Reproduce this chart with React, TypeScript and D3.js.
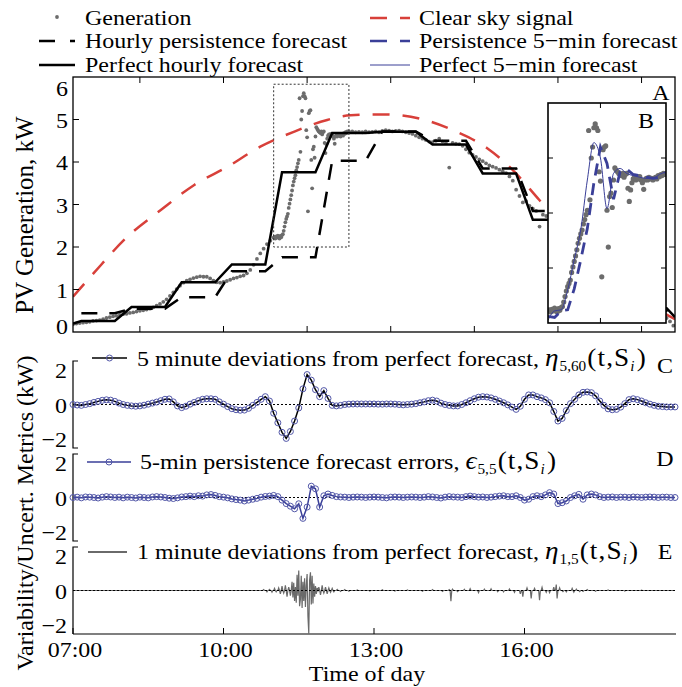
import React from 'react';
import * as d3 from 'd3';

const W = 682;
const H = 687;
const FONT = "'Liberation Serif', 'DejaVu Serif', serif";

// measured generation (kW). morning / afternoon every 4 min, the zoomed hour and a half every minute
const genMorning = [
  0.18, 0.20, 0.21, 0.22, 0.23, 0.24, 0.26, 0.27, 0.28, 0.30,
  0.33, 0.35, 0.37, 0.38, 0.40, 0.42, 0.43, 0.45, 0.46, 0.48,
  0.50, 0.51, 0.53, 0.55, 0.58, 0.62, 0.66, 0.71, 0.77, 0.85,
  0.93, 1.01, 1.09, 1.16, 1.21, 1.24, 1.27, 1.29, 1.31, 1.30,
  1.30, 1.26, 1.21, 1.17, 1.16, 1.18, 1.20, 1.23, 1.26, 1.28,
  1.31, 1.33, 1.38, 1.46, 1.58, 1.72, 1.85, 1.96, 2.07, 2.15,
];
const genMidday = [
  2.22, 2.24, 2.20, 2.25, 2.22, 2.27, 2.24, 2.20, 2.26, 2.23,
  2.28, 2.30, 2.38, 2.48, 2.58, 2.66, 2.72, 2.78, 2.92, 3.02,
  3.12, 3.22, 3.33, 3.45, 3.54, 3.62, 3.69, 3.80, 3.88, 3.97,
  4.05, 5.50, 4.24, 5.00, 5.20, 5.55, 5.62, 5.55, 5.50, 4.75,
  4.58, 2.84, 5.15, 5.20, 5.22, 4.05, 3.38, 4.30, 4.36, 4.10,
  4.60, 4.82, 4.78, 4.75, 4.72, 4.70, 4.68, 4.72, 4.65, 4.70,
  4.72, 4.45, 4.21, 4.42, 4.55, 4.62, 4.65, 4.60, 4.66, 4.62,
  4.66, 4.60, 4.55, 4.43, 4.60, 4.63, 4.60, 4.65, 4.62, 4.63,
  4.60, 4.63, 4.65, 4.62, 4.68, 4.66, 4.70, 4.68, 4.72, 4.70,
  4.72,
];
const genAfternoon = [
  4.72, 4.70, 4.71, 4.70, 4.72, 4.70, 4.71, 4.72, 4.70, 4.73,
  4.75, 4.74, 4.72, 4.73, 4.74, 4.72, 4.70, 4.68, 4.66, 4.62,
  4.58, 4.55, 4.52, 4.48, 4.47, 4.50, 4.55, 4.48, 4.45, 3.87,
  4.45, 4.43, 4.42, 4.38, 4.30, 4.22, 4.17, 4.12, 4.06, 4.02,
  3.97, 3.92, 3.89, 3.86, 3.82, 3.78, 3.74, 3.66, 3.56, 3.35,
  3.20, 3.05, 3.08, 2.97, 2.90, 2.85, 2.48, 2.76, 2.73, 2.66,
  2.60, 2.52, 2.46, 2.40, 2.35, 2.30, 2.24, 2.18, 2.12, 2.05,
  1.98, 1.92, 1.85, 1.78, 1.70, 1.62, 1.55, 1.48, 1.40, 1.33,
  1.26, 1.19, 1.12, 1.05, 0.98, 0.91, 0.84, 0.77, 0.70, 0.63,
  0.56, 0.49, 0.42, 0.37, 0.33, 0.25, 0.15,
];

// clear sky signal (minutes since midnight, kW)
const clearSkyT = [420, 445, 485, 525, 565, 605, 644, 684, 724, 752, 793, 839, 879, 915, 946, 978, 1010, 1050, 1090, 1140];
const clearSkyV = [0.83, 1.39, 2.24, 2.87, 3.46, 3.89, 4.36, 4.71, 4.99, 5.10, 5.12, 5.00, 4.71, 4.33, 3.81, 3.10, 2.40, 1.60, 0.90, 0.30];

// hourly values for 07:00 ... 18:00
const perfectHourly = [0.26, 0.59, 1.17, 1.59, 3.76, 4.68, 4.71, 4.41, 3.73, 2.64, 1.70, 0.56];
const persistHourly = [0.44, 0.55, 0.82, 1.43, 1.76, 4.03, 4.72, 4.50, 3.85, 2.85, 2.20, 0.50];

// 5-min forecasts inside the zoom window, 11:00 ... 12:30
const perfect5 = [2.05, 2.22, 2.24, 2.60, 3.15, 3.70, 4.60, 5.28, 5.00, 4.08, 4.72, 4.81, 4.72, 4.68, 4.65, 4.63, 4.63, 4.70, 4.75];
const persist5 = [2.12, 2.10, 2.22, 2.24, 2.62, 3.15, 3.72, 4.55, 5.20, 4.90, 4.25, 4.75, 4.80, 4.70, 4.68, 4.65, 4.63, 4.65, 4.72];

// panel C: 5 minute deviations from perfect forecast, 07:00 ... 19:00
const eta560 = [
  0, -0.03, -0.05, 0, 0.05, 0.12, 0.18, 0.24, 0.27, 0.25, 0.18, 0.08,
  0, -0.05, -0.08, -0.10, -0.08, -0.04, 0.02, 0.08, 0.14, 0.22, 0.30, 0.32,
  0.15, -0.08, -0.18, -0.10, 0.02, 0.12, 0.22, 0.30, 0.33, 0.33, 0.30, 0.15,
  0.02, -0.12, -0.24, -0.30, -0.33, -0.32, -0.22, -0.05, 0.12, 0.30, 0.45, 0.20,
  -0.50, -1.05, -1.60, -1.95, -1.55, -0.95, -0.20, 0.90, 1.72, 1.40, 0.85, 0.45,
  0.80, 0.35, -0.05, -0.08, -0.05, 0, 0.02, 0.03, 0.03, 0.03, 0.03, 0.03,
  0.03, 0.02, 0.02, 0.03, 0.03, 0.02, 0, -0.02, 0, 0.02, 0.05, 0.10,
  0.15, 0.22, 0.25, 0.20, 0.08, 0, -0.05, -0.08, -0.08, 0, 0.10, 0.22,
  0.33, 0.42, 0.45, 0.43, 0.38, 0.30, 0.20, 0.10, -0.02, -0.15, -0.28, -0.10,
  0.30, 0.55, 0.55, 0.45, 0.38, 0.28, 0.10, -0.40, -0.95, -0.80, -0.35, 0.05,
  0.30, 0.55, 0.70, 0.72, 0.68, 0.50, 0.20, -0.05, -0.25, -0.30, -0.28, -0.15,
  0.05, 0.28, 0.33, 0.28, 0.20, 0.10, 0.02, -0.05, -0.10, -0.12, -0.14, -0.14,
  -0.14,
];

// panel D: 5-min persistence forecast errors, 07:00 ... 19:00
const eps55 = [
  0, 0.02, -0.02, 0.03, 0.02, 0, -0.03, 0.02, 0.05, 0.03, 0, 0.02,
  -0.02, 0.02, 0, -0.03, 0.02, 0, -0.02, 0.03, 0.05, 0.03, 0, -0.04,
  -0.06, -0.02, 0.03, 0.05, 0.08, 0.05, 0.10, 0.08, 0.15, 0.17, 0.12, 0.05,
  0.02, -0.02, -0.08, -0.12, -0.15, -0.20, -0.15, -0.10, -0.05, 0.02, 0.06, 0.08,
  0.12, 0.05, -0.15, -0.35, -0.50, -0.65, -0.36, -1.20, -0.55, 0.65, 0.50, -0.55,
  0.10, 0.20, 0.12, 0.05, 0.03, 0.02, 0, 0.02, 0.03, 0.02, 0, 0.02,
  0.03, 0.02, 0, -0.02, 0.02, 0.03, 0.02, 0, 0.02, 0.03, 0.02, 0,
  0.02, 0.05, 0.03, 0, -0.03, 0.02, 0.05, 0.03, 0.02, 0, 0.05, 0.08,
  0.05, 0.02, 0.03, 0, 0.02, 0.05, 0.08, 0.10, 0.05, 0.05, 0.10, 0,
  -0.15, -0.10, 0.05, 0.10, 0.05, 0.15, 0.28, 0.20, -0.35, -0.30, -0.20, 0,
  0.10, 0.18, -0.10, 0.15, 0.20, 0.15, 0.05, 0, 0.02, 0.03, 0, 0.02,
  0.02, 0, 0.03, 0.02, 0, 0.02, 0.03, 0.02, 0, 0.02, 0.02, 0,
  0,
];

// panel E: 1 minute deviations; minutes not listed read as zero
const eta15T = [
  648, 652, 655, 658, 661, 663, 666, 668, 670, 672, 674, 676, 678, 680, 682, 683, 684, 685, 686, 687,
  688, 689, 690, 691, 692, 693, 694, 695, 696, 697, 698, 699, 700, 701, 702, 703, 704, 705, 706, 707,
  708, 709, 710, 711, 712, 714, 716, 718, 720, 722, 724, 726, 728, 730, 732, 736, 740, 745, 750,
  760, 775, 790, 805, 820, 838, 850, 862, 870, 872, 874, 880, 888, 895, 905, 912, 920, 928, 935, 942,
  948, 955, 958, 963, 968, 972, 978, 981, 986, 990, 995, 998, 999, 1002, 1006, 1010, 1017, 1019, 1022,
  1026, 1030, 1035, 1045, 1060, 1080, 1100,
];
const eta15V = [
  0.05, -0.08, 0.06, -0.10, 0.12, -0.08, 0.15, -0.20, 0.25, -0.15, 0.30, -0.35, 0.20, -0.30, 0.50, -0.40, 0.45, -0.60, 0.20, -0.70,
  0.90, -0.30, 1.15, -0.90, -0.50, 0.85, -1.00, 0.50, -0.60, 0.70, -0.95, 0.30, 0.95, -1.50, -2.45, 0.60, 1.05, -0.80, 0.85, -0.75,
  0.40, -0.35, 0.25, -0.20, 0.15, 0.20, -0.25, 0.30, -0.15, 0.20, -0.20, 0.15, -0.10, 0.12, -0.08, 0.06, -0.05, 0.05, -0.04,
  0.03, -0.03, 0.04, -0.03, 0.03, -0.04, 0.05, -0.05, 0.05, -0.62, 0.08, -0.06, 0.07, 0.10, -0.12, 0.08, 0.10, -0.07, -0.08, 0.09,
  -0.10, -0.20, -0.36, 0.15, -0.46, 0.12, -0.56, 0.18, -0.10, -0.12, 0.20, 0.34, -0.46, 0.15, -0.06, -0.08, 0.12, -0.10, 0.08,
  -0.06, -0.05, 0.05, -0.04, 0.03, -0.03, 0.02,
];

const hourTicks = [420, 600, 780, 960];
const hourLabels = ['07:00', '10:00', '13:00', '16:00'];
const zoomBox = { t0: 660, t1: 750, v0: 2, v1: 5.83 };

const x = d3.scaleLinear().domain([420, 1140]).range([73, 675]);
const yA = d3.scaleLinear().domain([0, 6]).range([332, 77]);
const xB = d3.scaleLinear().domain([660, 750]).range([548, 666]);
const yB = d3.scaleLinear().domain([2, 6]).range([323, 103]);
const yC = d3.scaleLinear().domain([-2.5, 2.5]).range([448, 361]);
const yD = d3.scaleLinear().domain([-2.5, 2.5]).range([541, 454]);
const yE = d3.scaleLinear().domain([-2.5, 2.5]).range([634, 547]);

const RED = '#d8403a';
const BLUE = '#3a3f98';
const MARK = '#5257a8';
const GRAY = '#6c6c6c';
const FS = 22;
const SX = 1.09; // the figure's lettering is a little wider than tall

type Pt = [number, number];

const gen: Pt[] = [
  ...genMorning.map((v, i) => [420 + i * 4, v] as Pt),
  ...genMidday.map((v, i) => [660 + i, v] as Pt),
  ...genAfternoon.map((v, i) => [754 + i * 4, v] as Pt),
];

function hourlyPath(vals: number[], first: Pt | null, last: Pt): Pt[] {
  const pts: Pt[] = first ? [first] : [];
  vals.forEach((v, i) => {
    const h0 = (7 + i) * 60;
    pts.push([h0 + 10, v]);
    pts.push([h0 + 50, v]);
  });
  pts.push(last);
  return pts;
}

const perfectPts = hourlyPath(perfectHourly, [420, 0.2], [1140, 0.35]);
const persistPts = hourlyPath(persistHourly, null, [1140, 0.3]);
const clearPts: Pt[] = clearSkyT.map((t, i) => [t, clearSkyV[i]]);
const p5: Pt[] = perfect5.map((v, i) => [660 + i * 5, v]);
const ps5: Pt[] = persist5.map((v, i) => [660 + i * 5, v]);
const cPts: Pt[] = eta560.map((v, i) => [420 + i * 5, v]);
const dPts: Pt[] = eps55.map((v, i) => [420 + i * 5, v]);
const eMap = new Map(eta15T.map((t, i) => [t, eta15V[i]]));
const ePts: Pt[] = d3.range(420, 1141).map((t) => [t, eMap.get(t) ?? 0]);

const lineA = d3.line<Pt>().x((d) => x(d[0])).y((d) => yA(d[1]));
const lineB = d3.line<Pt>().x((d) => xB(d[0])).y((d) => yB(d[1]));

// horizontal text, slightly stretched in x like the reference
function T({ x0, y0, anchor = 'start', size = FS, children }: any) {
  return (
    <text transform={`translate(${x0},${y0}) scale(${SX},1)`} textAnchor={anchor} fontSize={size} fontFamily={FONT}>
      {children}
    </text>
  );
}

function MathLabel({ x0, y0, pre, sym, sub }: { x0: number; y0: number; pre: string; sym: string; sub: string }) {
  return (
    <T x0={x0} y0={y0}>
      {pre}
      <tspan fontStyle="italic" fontSize={25}>{sym}</tspan>
      <tspan fontSize={14} dy={5} dx={1}>{sub}</tspan>
      <tspan dy={-5} dx={1} fontSize={25} letterSpacing={1}>(t,S</tspan>
      <tspan fontSize={14} fontStyle="italic" dy={5}>i</tspan>
      <tspan dy={-5} dx={2} fontSize={25}>)</tspan>
    </T>
  );
}

function SmallPanel({ y, pts, lineColor, markers, label, children }: any) {
  const [top, bottom] = [y.range()[1], y.range()[0]];
  const path = d3.line<Pt>().x((d) => x(d[0])).y((d) => y(d[1]))(pts) || '';
  return (
    <g>
      <path d={`M${x(420) + 5},${top}H${x(420)}V${bottom}${markers ? `H${x(420) + 5}` : ''}`} fill="none" stroke="#000" strokeWidth={1.2} />
      {markers && <line x1={x(420)} x2={x(1140)} y1={y(0)} y2={y(0)} stroke="#000" strokeWidth={1} strokeDasharray="2,2" />}
      <path d={path} fill="none" stroke={lineColor} strokeWidth={markers ? 1.5 : 1.2} />
      {markers && pts.map((d: Pt, i: number) => (
        <circle key={i} cx={x(d[0])} cy={y(d[1])} r={3} fill="none" stroke={MARK} strokeWidth={1} />
      ))}
      {!markers && <line x1={x(420)} x2={x(1140)} y1={y(0)} y2={y(0)} stroke="#000" strokeWidth={1} strokeDasharray="2,2" />}
      {[2, 0, -2].map((v) => (
        <T key={v} x0={67} y0={y(v) + 8} anchor="end">{v < 0 ? `\u2212${-v}` : v}</T>
      ))}
      <T x0={665} y0={top + 12} anchor="middle">{label}</T>
      {children}
    </g>
  );
}

export default function App() {
  const ticksA = d3.range(500, 1101, 100);
  return (
    <svg width={W} height={H} style={{ position: 'absolute', left: 0, top: 0, background: '#fff' }}>
      <defs>
        <clipPath id="clipA"><rect x={73} y={77} width={602} height={255} /></clipPath>
        <clipPath id="clipB"><rect x={548} y={103} width={118} height={220} /></clipPath>
      </defs>

      {/* legend of panel A */}
      <circle cx={57} cy={17} r={1.9} fill={GRAY} />
      <T x0={85} y0={25}>Generation</T>
      <line x1={39} x2={75} y1={41} y2={41} stroke="#000" strokeWidth={2.5} strokeDasharray="16,15" />
      <T x0={85} y0={48}>Hourly persistence forecast</T>
      <line x1={39} x2={75} y1={65} y2={65} stroke="#000" strokeWidth={2.5} />
      <T x0={85} y0={72}>Perfect hourly forecast</T>
      <line x1={370} x2={410} y1={18} y2={18} stroke={RED} strokeWidth={2.5} strokeDasharray="17,13" />
      <T x0={419} y0={25}>Clear sky signal</T>
      <line x1={370} x2={410} y1={41} y2={41} stroke={BLUE} strokeWidth={2.5} strokeDasharray="17,13" />
      <T x0={419} y0={48}>Persistence 5{'\u2212'}min forecast</T>
      <line x1={370} x2={410} y1={65} y2={65} stroke={BLUE} strokeWidth={1} />
      <T x0={419} y0={72}>Perfect 5{'\u2212'}min forecast</T>

      {/* panel A */}
      <g clipPath="url(#clipA)">
        <path d={d3.line<Pt>().curve(d3.curveMonotoneX).x((d) => x(d[0])).y((d) => yA(d[1]))(clearPts) || ''}
          fill="none" stroke={RED} strokeWidth={2.5} strokeDasharray="17,13" />
        {gen.map((d, i) => (
          <circle key={i} cx={x(d[0])} cy={yA(d[1])} r={1.9} fill={GRAY} />
        ))}
        <path d={lineA(persistPts) || ''} fill="none" stroke="#000" strokeWidth={2.5} strokeDasharray="16,12" />
        <path d={lineA(perfectPts) || ''} fill="none" stroke="#000" strokeWidth={2.5} />
        <rect x={x(zoomBox.t0)} y={yA(zoomBox.v1)} width={x(zoomBox.t1) - x(zoomBox.t0)}
          height={yA(zoomBox.v0) - yA(zoomBox.v1)} fill="none" stroke="#333" strokeWidth={1} strokeDasharray="2,2" />
      </g>
      <rect x={73} y={77} width={602} height={255} fill="none" stroke="#000" strokeWidth={1.3} />
      {ticksA.map((t) => (
        <g key={t}>
          <line x1={x(t)} x2={x(t)} y1={77} y2={83} stroke="#000" />
          <line x1={x(t)} x2={x(t)} y1={332} y2={326} stroke="#000" />
        </g>
      ))}
      {d3.range(1, 6).map((v) => (
        <g key={v}>
          <line x1={73} x2={79} y1={yA(v)} y2={yA(v)} stroke="#000" />
          <line x1={675} x2={669} y1={yA(v)} y2={yA(v)} stroke="#000" />
        </g>
      ))}
      {d3.range(0, 7).map((v) => (
        <T key={v} x0={68} y0={v === 6 ? 96 : v === 0 ? 334 : yA(v) + 8} anchor="end">{v}</T>
      ))}
      <T x0={661} y0={100} anchor="middle">A</T>
      <text transform="translate(33,215) rotate(-90)" textAnchor="middle" fontSize={25} fontFamily={FONT}>PV Generation, kW</text>

      {/* inset B */}
      <rect x={548} y={103} width={118} height={220} fill="#fff" />
      <g clipPath="url(#clipB)">
        {gen.filter((d) => d[0] >= 660 && d[0] <= 750).map((d, i) => (
          <circle key={i} cx={xB(d[0])} cy={yB(d[1])} r={2.6} fill={GRAY} />
        ))}
        <path d={lineB(ps5) || ''} fill="none" stroke={BLUE} strokeWidth={2.8} strokeDasharray="12,8" />
        <path d={d3.line<Pt>().curve(d3.curveMonotoneX).x((d) => xB(d[0])).y((d) => yB(d[1]))(p5) || ''}
          fill="none" stroke={BLUE} strokeWidth={1} />
      </g>
      <rect x={548} y={103} width={118} height={220} fill="none" stroke="#000" strokeWidth={1.6} />
      {[3, 4, 5].map((v) => (
        <g key={v}>
          <line x1={548} x2={553} y1={yB(v)} y2={yB(v)} stroke="#000" />
          <line x1={666} x2={661} y1={yB(v)} y2={yB(v)} stroke="#000" />
        </g>
      ))}
      <line x1={xB(700)} x2={xB(700)} y1={103} y2={108} stroke="#000" />
      <line x1={xB(700)} x2={xB(700)} y1={323} y2={318} stroke="#000" />
      <T x0={646} y0={128} anchor="middle">B</T>

      {/* panels C, D, E */}
      <SmallPanel y={yC} pts={cPts} lineColor="#000" markers label="C">
        <line x1={92} x2={127} y1={358} y2={358} stroke="#000" strokeWidth={1.5} />
        <circle cx={109.5} cy={358} r={3} fill="none" stroke={MARK} />
        <MathLabel x0={137} y0={366} pre="5 minute deviations from perfect forecast, " sym={'\u03b7'} sub="5,60" />
      </SmallPanel>
      <SmallPanel y={yD} pts={dPts} lineColor={BLUE} markers label="D">
        <line x1={87} x2={131} y1={462} y2={462} stroke={BLUE} strokeWidth={1.5} />
        <circle cx={109} cy={462} r={3} fill="none" stroke={MARK} />
        <MathLabel x0={140} y0={469} pre="5-min persistence forecast errors, " sym={'\u03f5'} sub="5,5" />
      </SmallPanel>
      <SmallPanel y={yE} pts={ePts} lineColor="#6a6a6a" markers={false} label="E">
        <line x1={88} x2={127} y1={552} y2={552} stroke="#6a6a6a" strokeWidth={2} />
        <MathLabel x0={137} y0={559} pre="1 minute deviations from perfect forecast, " sym={'\u03b7'} sub="1,5" />
      </SmallPanel>
      <line x1={73} x2={676} y1={634} y2={634} stroke="#000" strokeWidth={1.2} />
      {hourTicks.map((t, i) => (
        <g key={t}>
          <line x1={x(t)} x2={x(t)} y1={634} y2={628} stroke="#000" />
          <T x0={x(t) + 2} y0={657} anchor="middle">{hourLabels[i]}</T>
        </g>
      ))}
      <T x0={367} y0={681} anchor="middle">Time of day</T>
      <text transform="translate(33,513) rotate(-90)" textAnchor="middle" fontSize={24} fontFamily={FONT}>Variability/Uncert. Metrics (kW)</text>
    </svg>
  );
}
